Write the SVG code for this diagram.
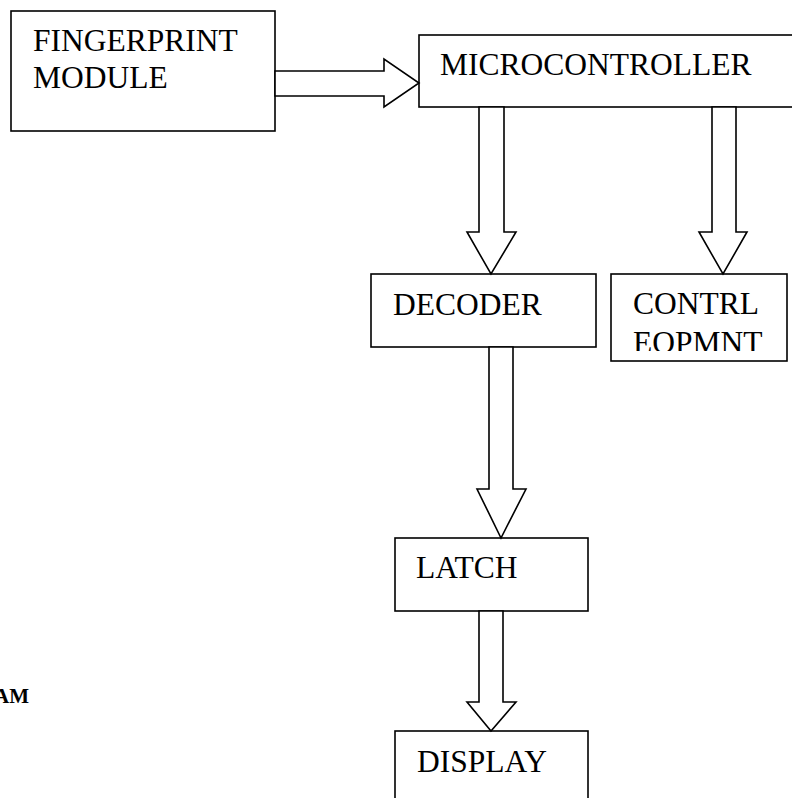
<svg xmlns="http://www.w3.org/2000/svg" width="792" height="798" viewBox="0 0 792 798">
<style>
.box{fill:#fff;stroke:#000;stroke-width:1.6}
.arr{fill:#fff;stroke:#000;stroke-width:1.6;stroke-linejoin:miter}
.lbl{font-family:"Liberation Serif","Times New Roman",serif;font-size:31.5px;fill:#000}
.bold{font-family:"Liberation Serif","Times New Roman",serif;font-size:21px;font-weight:bold;fill:#000}
</style>
<defs>
<clipPath id="clipCtrl"><rect x="611" y="274" width="176" height="77"/></clipPath>
</defs>
<rect width="792" height="798" fill="#fff"/>
<g id="fingerprint">
<rect class="box" x="11" y="11" width="264" height="120"/>
<text class="lbl" x="33" y="51">FINGERPRINT</text>
<text class="lbl" x="33" y="88">MODULE</text>
</g>
<g id="microcontroller">
<rect class="box" x="419" y="35" width="390" height="72"/>
<text class="lbl" x="440" y="75">MICROCONTROLLER</text>
</g>
<g id="decoder">
<rect class="box" x="371" y="274" width="225" height="73"/>
<text class="lbl" x="393" y="315">DECODER</text>
</g>
<g id="control">
<rect class="box" x="611" y="274" width="176" height="87"/>
<g clip-path="url(#clipCtrl)">
<text class="lbl" x="633" y="314">CONTRL</text>
<text class="lbl" x="633" y="353">EOPMNT</text>
</g>
</g>
<g id="latch">
<rect class="box" x="395" y="538" width="193" height="73"/>
<text class="lbl" x="416" y="578">LATCH</text>
</g>
<g id="display">
<rect class="box" x="395" y="731" width="193" height="80"/>
<text class="lbl" x="417" y="772">DISPLAY</text>
</g>
<g id="caption">
<text class="bold" x="29" y="703" text-anchor="end">AM</text>
</g>
<g id="connectors">
<polygon class="arr" points="275,71 384,71 384,59 419,83 384,107 384,96 275,96"/>
<polygon class="arr" points="479,107 504,107 504,232 516,232 491,274 467,232 479,232"/>
<polygon class="arr" points="712,107 736,107 736,232 747,232 723,274 699,232 712,232"/>
<polygon class="arr" points="489,347 513,347 513,489 526,489 501,538 477,489 489,489"/>
<polygon class="arr" points="479,611 503,611 503,702 516,702 491,731 467,702 479,702"/>
</g>
</svg>
